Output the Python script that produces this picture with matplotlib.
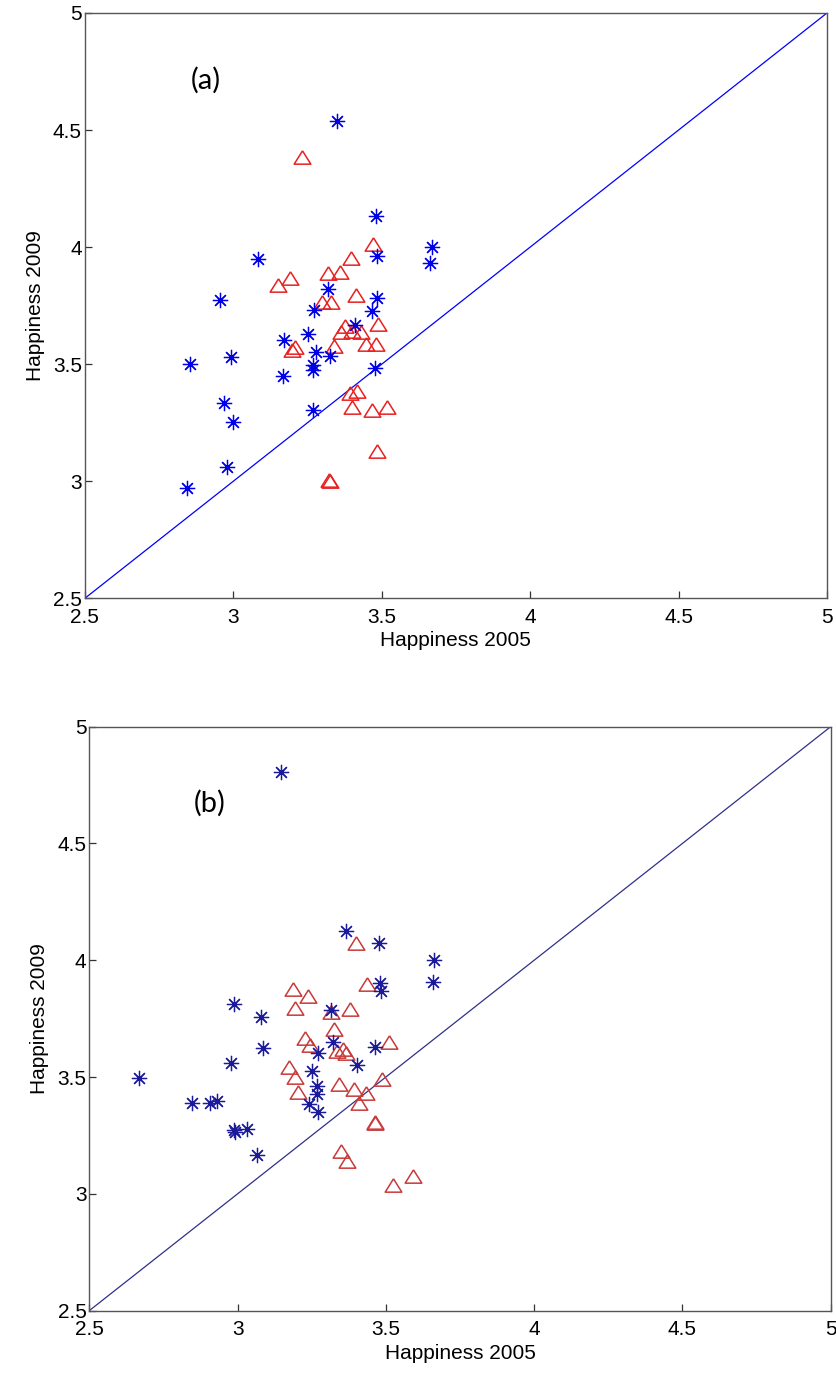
import matplotlib
matplotlib.use("Agg")
import matplotlib.pyplot as plt
import numpy as np

# panel (a): blue stars
a_star_x = [3.083, 2.956, 2.992, 2.856, 2.970, 3.000, 2.979, 2.846, 3.348, 3.480,
            3.485, 3.668, 3.662, 3.319, 3.271, 3.484, 3.469, 3.410, 3.252, 3.170,
            3.279, 3.325, 3.268, 3.270, 3.168, 3.479, 3.268]
a_star_y = [3.948, 3.775, 3.532, 3.500, 3.333, 3.254, 3.060, 2.973, 4.539, 4.133,
            3.962, 4.000, 3.933, 3.820, 3.732, 3.784, 3.729, 3.667, 3.628, 3.602,
            3.553, 3.537, 3.497, 3.476, 3.450, 3.484, 3.305]
# panel (a): red triangles
a_tri_x = [3.232, 3.471, 3.397, 3.321, 3.359, 3.190, 3.150, 3.413, 3.299, 3.329,
           3.489, 3.378, 3.363, 3.399, 3.431, 3.449, 3.482, 3.341, 3.198, 3.209,
           3.392, 3.417, 3.400, 3.468, 3.519, 3.484, 3.323, 3.325]
a_tri_y = [4.386, 4.014, 3.953, 3.891, 3.895, 3.867, 3.839, 3.796, 3.765, 3.765,
           3.672, 3.665, 3.637, 3.643, 3.637, 3.588, 3.588, 3.578, 3.561, 3.575,
           3.379, 3.387, 3.319, 3.305, 3.319, 3.131, 3.006, 3.003]

# panel (b): blue stars
b_star_x = [3.145, 2.669, 2.988, 3.080, 3.087, 2.977, 2.845, 2.907, 2.929, 2.992,
            2.988, 3.033, 3.066, 3.364, 3.478, 3.662, 3.658, 3.481, 3.482, 3.315,
            3.321, 3.462, 3.272, 3.404, 3.250, 3.267, 3.267, 3.241, 3.270]
b_star_y = [4.805, 3.497, 3.813, 3.756, 3.626, 3.559, 3.388, 3.388, 3.399, 3.264,
            3.273, 3.278, 3.167, 4.127, 4.075, 4.000, 3.908, 3.904, 3.870, 3.787,
            3.649, 3.630, 3.602, 3.553, 3.527, 3.463, 3.428, 3.385, 3.352]
# panel (b): red triangles
b_tri_x = [3.398, 3.435, 3.188, 3.236, 3.195, 3.315, 3.379, 3.325, 3.227, 3.244,
           3.336, 3.356, 3.365, 3.511, 3.174, 3.194, 3.342, 3.487, 3.393, 3.433,
           3.203, 3.410, 3.463, 3.463, 3.349, 3.368, 3.590, 3.523]
b_tri_y = [4.075, 3.899, 3.876, 3.847, 3.797, 3.780, 3.790, 3.707, 3.669, 3.637,
           3.613, 3.622, 3.602, 3.649, 3.545, 3.499, 3.470, 3.492, 3.448, 3.431,
           3.438, 3.388, 3.302, 3.309, 3.185, 3.141, 3.077, 3.038]

ticks = [2.5, 3, 3.5, 4, 4.5, 5]
tick_labels = ['2.5', '3', '3.5', '4', '4.5', '5']

plt.rcParams['font.family'] = ['Liberation Sans', 'DejaVu Sans']

tri = [(0, 0.8), (-1, -0.8), (1, -0.8), (0, 0.8)]

fig = plt.figure(figsize=(8.37, 13.77), dpi=100)

panels = [
    ([0.1012, 0.5654, 0.8869, 0.4252], a_star_x, a_star_y, a_tri_x, a_tri_y,
     '(a)', 0.885, 'blue', '#0000e6', '#e82020'),
    ([0.1067, 0.0482, 0.8858, 0.4241], b_star_x, b_star_y, b_tri_x, b_tri_y,
     '(b)', 0.869, '#30308a', '#1a1a9a', '#c83a3a'),
]

for rect, sx, sy, tx, ty, tag, tag_y, line_c, star_c, tri_c in panels:
    ax = fig.add_axes(rect)
    ax.plot([2.5, 5], [2.5, 5], color=line_c, linewidth=0.9)
    ax.plot(tx, ty, linestyle='none', marker=tri, markersize=12,
            markerfacecolor='none', markeredgecolor=tri_c, markeredgewidth=1.1)
    ax.plot(sx, sy, linestyle='none', marker=(8, 2, 0), markersize=11,
            markeredgecolor=star_c, markeredgewidth=0.9)
    ax.set_xlim(2.5, 5)
    ax.set_ylim(2.5, 5)
    ax.set_xticks(ticks)
    ax.set_xticklabels(tick_labels)
    ax.set_yticks(ticks)
    ax.set_yticklabels(tick_labels)
    ax.tick_params(direction='in', length=5, width=0.9, labelsize=15, pad=2,
                   colors='#333333', labelcolor='black')
    ax.tick_params(axis='x', pad=7)
    for s in ax.spines.values():
        s.set_color('#555555')
        s.set_linewidth(1.0)
    ax.set_xlabel('Happiness 2005', fontsize=15, labelpad=3)
    ax.set_ylabel('Happiness 2009', fontsize=15, labelpad=6)
    ax.text(0.163, tag_y, tag, transform=ax.transAxes, fontsize=21,
            family=['Lato', 'DejaVu Sans'], ha='center', va='center')

fig.savefig('out.png', dpi=100)
